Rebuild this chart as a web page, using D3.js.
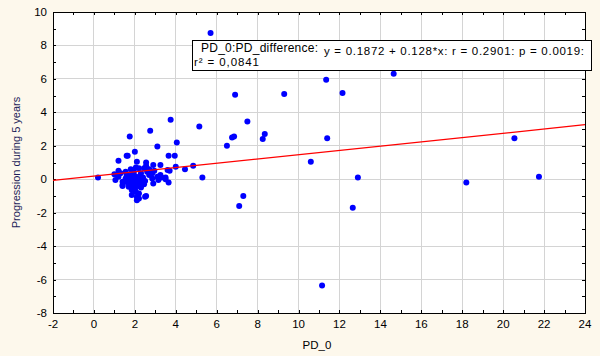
<!DOCTYPE html>
<html><head><meta charset="utf-8">
<script src="https://cdn.jsdelivr.net/npm/d3@7"></script>
<style>
html,body{margin:0;padding:0;background:#fdf8ec;}
svg{display:block;}
text{font-family:"Liberation Sans",Arial,sans-serif;}
</style></head>
<body>
<svg id="chart" width="600" height="356"></svg>
<script>
// PD_0 values (x) and PD_difference (y)
const pd0 = [
 5.7,6.9,9.3,11.35,12.15,14.65,7.5,5.15,6.5,6.75,6.85,8.25,8.35,11.4,10.6,5.3,12.9,7.3,7.1,12.65,18.2,20.55,21.75,11.15,
 3.75,2.75,1.75,4.05,3.1,2.0,1.6,1.65,3.65,3.95,1.2,2.1,2.55,2.55,2.9,3.25,4.45,4.85,4.0,0.2,3.6,3.7,2.85,
 1.2,1.55,1.8,2.2,2.45,3.1,3.25,3.5,3.15,3.65,2.7,1.2,1.4,1.4,1.7,1.95,2.2,2.35,1.55,1.8,2.05,2.2,1.85,2.05,2.2,1.85,2.1,2.5,2.1,2.0,1.4,2.55,3.3,3.5,
 1.9,2.0,2.3,1.6,1.75,2.4,2.5,2.6,1.95,2.15,2.3,2.45,1.65,2.85,2.9,1.0,1.3,2.0,1.85,2.25,2.7,2.05,1.05,2.95,2.2,1.9
];
const pdDiff = [
 8.75,5.05,5.1,5.95,5.15,6.3,3.45,3.15,2.0,2.5,2.55,2.4,2.7,2.45,1.05,0.1,0.1,-1.0,-1.6,-1.7,-0.2,2.45,0.15,-6.35,
 3.55,2.9,2.55,2.2,1.95,1.65,1.4,1.4,1.4,1.4,1.1,1.05,1.0,0.8,0.85,0.85,0.6,0.8,0.75,0.1,0.55,0.5,0.35,
 0.5,0.45,0.6,0.65,0.65,0.15,0.25,0.1,-0.05,-0.2,0.25,0.15,-0.15,-0.35,-0.45,-0.35,-0.25,-0.15,0.05,0.05,0.05,0.15,-0.65,-0.75,-0.85,-0.95,-1.05,-1.05,-1.25,-0.6,-0.4,-1.0,0.1,0.0,
 0.3,0.2,0.35,0.25,0.2,0.1,-0.1,0.45,0.45,-0.4,-0.5,-0.3,-0.2,0.05,-0.25,0.3,0.35,-0.1,-0.25,0.0,0.6,0.7,-0.05,0.5,-1.15,-0.5
];
const xTicks = [-2,0,2,4,6,8,10,12,14,16,18,20,22,24];
const yTicks = [-8,-6,-4,-2,0,2,4,6,8,10];
const fitIntercept = 0.1872, fitSlope = 0.128;
const xTitle = "PD_0";
const yTitle = "Progression during 5 years";
const noteLabel = "PD_0:PD_difference:";
const noteEq = "y = 0.1872 + 0.128*x:  r = 0.2901: p = 0.0019:";
const noteR2 = "r² = 0,0841";

const svg = d3.select("#chart");
const L = 53, R = 585, T = 12, B = 313;
const x = d3.scaleLinear().domain([-2,24]).range([L,R]);
const y = d3.scaleLinear().domain([-8,10]).range([B,T]);

svg.append("rect").attr("x",L).attr("y",T).attr("width",R-L).attr("height",B-T).attr("fill","#fff");

// grid
const g = svg.append("g").attr("stroke","#d4d4d4").attr("stroke-width",1).attr("shape-rendering","crispEdges");
xTicks.slice(1,-1).forEach(t=>g.append("line").attr("x1",x(t)).attr("x2",x(t)).attr("y1",T).attr("y2",B));
yTicks.slice(1,-1).forEach(t=>g.append("line").attr("y1",y(t)).attr("y2",y(t)).attr("x1",L).attr("x2",R));

// axes (inward ticks at every unit)
const minorX = d3.range(-2,25,1), minorY = d3.range(-8,11,1);
const axB = svg.append("g").attr("transform",`translate(0,${B})`)
  .call(d3.axisBottom(x).tickValues(minorX).tickSize(-3).tickFormat(""));
const axT = svg.append("g").attr("transform",`translate(0,${T})`)
  .call(d3.axisTop(x).tickValues(minorX).tickSize(-3).tickFormat(""));
const axL = svg.append("g").attr("transform",`translate(${L},0)`)
  .call(d3.axisLeft(y).tickValues(minorY).tickSize(-3).tickFormat(""));
const axR = svg.append("g").attr("transform",`translate(${R},0)`)
  .call(d3.axisRight(y).tickValues(minorY).tickSize(-3).tickFormat(""));
[axB,axT,axL,axR].forEach(a=>{a.selectAll("path,line").attr("stroke","#000").attr("shape-rendering","crispEdges");});

// tick labels
svg.append("g").selectAll("text").data(xTicks).join("text")
  .attr("x",d=>x(d)).attr("y",B+15).attr("text-anchor","middle")
  .attr("font-size",11.5).attr("fill","#000").text(d=>d);
svg.append("g").selectAll("text").data(yTicks).join("text")
  .attr("x",L-6).attr("y",d=>y(d)+4).attr("text-anchor","end")
  .attr("font-size",11.5).attr("fill","#000").text(d=>d);

// titles
svg.append("text").attr("x",(L+R)/2-2).attr("y",349).attr("text-anchor","middle")
  .attr("font-size",11.5).attr("fill","#000").text(xTitle);
svg.append("text").attr("transform",`translate(20,${(T+B)/2}) rotate(-90)`)
  .attr("text-anchor","middle").attr("font-size",11).attr("fill","#1e1e5a").text(yTitle);

// points
svg.append("g").selectAll("circle").data(pd0.map((d,i)=>[d,pdDiff[i]])).join("circle")
  .attr("cx",d=>x(d[0])).attr("cy",d=>y(d[1])).attr("r",3).attr("fill","#0000ff");

// regression line
svg.append("line").attr("x1",x(-2)).attr("y1",y(fitIntercept+fitSlope*-2))
  .attr("x2",x(24)).attr("y2",y(fitIntercept+fitSlope*24))
  .attr("stroke","#ff0000").attr("stroke-width",1.2);

// annotation box
svg.append("rect").attr("x",192.5).attr("y",40.5).attr("width",399).attr("height",30)
  .attr("fill","#fff").attr("stroke","#000").attr("stroke-width",1);
svg.append("text").attr("x",201).attr("y",52).attr("font-size",12).attr("fill","#000")
  .attr("textLength",117).attr("lengthAdjust","spacing").text(noteLabel);
svg.append("text").attr("x",324).attr("y",55).attr("font-size",11.5).attr("fill","#000")
  .attr("textLength",260).attr("lengthAdjust","spacing").text(noteEq);
svg.append("text").attr("x",194).attr("y",66).attr("font-size",11.5).attr("fill","#000")
  .attr("textLength",65).attr("lengthAdjust","spacing").text(noteR2);
</script>
</body></html>
